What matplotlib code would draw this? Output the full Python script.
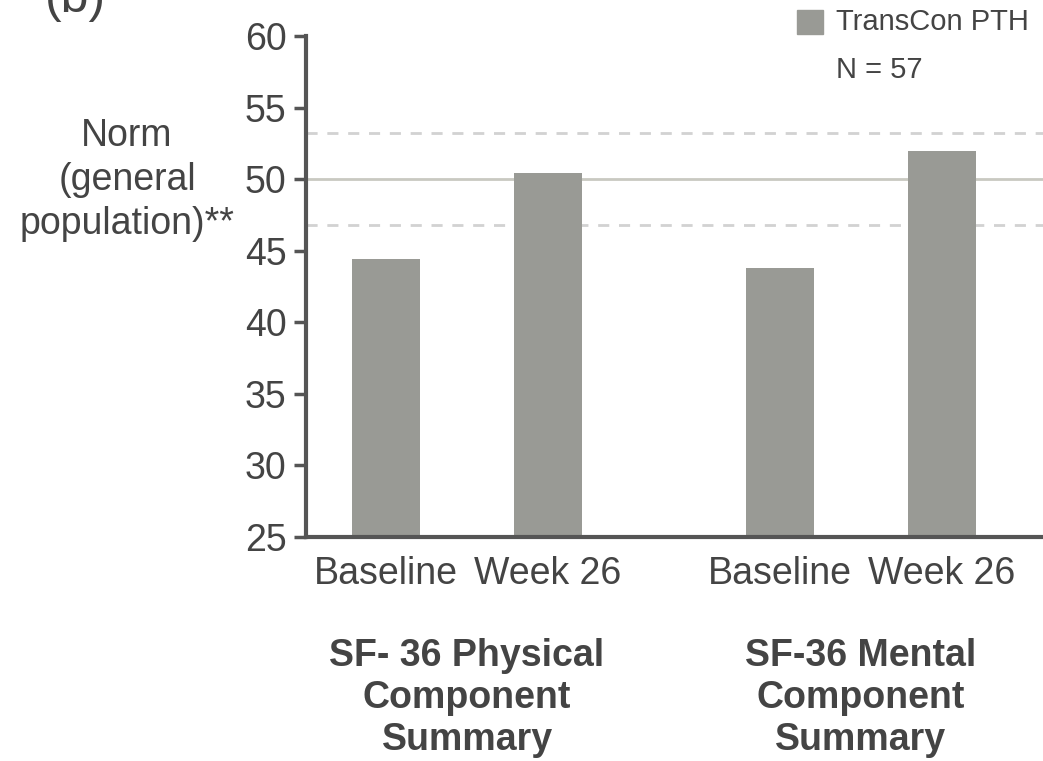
import matplotlib.pyplot as plt
import matplotlib.transforms as mtransforms
import numpy as np

# SF-36 scores, baseline vs week 26
categories = ['Baseline', 'Week 26', 'Baseline', 'Week 26']
scores = [44.4, 50.4, 43.8, 52.0]
groups = ['SF- 36 Physical\nComponent\nSummary', 'SF-36 Mental\nComponent\nSummary']
norm_mean = 50
norm_band = [46.8, 53.2]
yticks = [25, 30, 35, 40, 45, 50, 55, 60]

plt.rcParams['font.family'] = ['Liberation Sans', 'DejaVu Sans']

text_col = '#444444'
bar_col = '#999a95'
axis_col = '#555555'

fig = plt.figure(figsize=(10.43, 7.61), dpi=100)
ax = fig.add_axes([0.2934, 0.2943, 0.7066, 0.6584])

x = np.array([0, 1, 2.432, 3.432])

# norm reference lines behind the bars
ax.axhline(norm_mean, color='#c9c9c1', lw=2, zorder=1)
for v in norm_band:
    ax.axhline(v, color='#d2d2d2', lw=2, ls=(0, (4, 3.5)), zorder=1)

ax.bar(x, scores, width=0.42, color=bar_col, zorder=2)

ax.set_xlim(-0.494, 4.056)
ax.set_ylim(25, 60)
ax.set_yticks(yticks)
ax.set_xticks(x)
ax.set_xticklabels(categories)
ax.tick_params(axis='y', length=9, width=2.5, color=axis_col, labelsize=27,
               labelcolor=text_col, pad=5)
ax.tick_params(axis='x', length=0, labelsize=27, labelcolor=text_col, pad=14)

for s in ['top', 'right']:
    ax.spines[s].set_visible(False)
for s in ['left', 'bottom']:
    ax.spines[s].set_color(axis_col)
    ax.spines[s].set_linewidth(3)

# group titles under the tick labels
trans = mtransforms.blended_transform_factory(ax.transData, fig.transFigure)
for gx, g in zip([(x[0] + x[1]) / 2, (x[2] + x[3]) / 2], groups):
    ax.text(gx, 1 - 638 / 761, g, transform=trans, ha='center', va='top',
            fontsize=27, fontweight='bold', color=text_col, linespacing=1.22)

# norm label on the left
fig.text(127 / 1043, 1 - 180 / 761, 'Norm\n(general\npopulation)**', ha='center',
         va='center', fontsize=27, color=text_col, linespacing=1.3)

# legend
fig.patches.append(plt.Rectangle((797 / 1043, 1 - 34 / 761), 26 / 1043, 24 / 761,
                                 transform=fig.transFigure, color=bar_col))
fig.text(836 / 1043, 1 - 22 / 761, 'TransCon PTH', ha='left', va='center',
         fontsize=21, color=text_col)
fig.text(836 / 1043, 1 - 70 / 761, 'N = 57', ha='left', va='center',
         fontsize=21, color=text_col)

# panel letter, partly cut off at the top
fig.text(45 / 1043, 1 - 12 / 761, '(b)', ha='left', va='baseline',
         fontsize=36, color=text_col)

fig.savefig('out.png', dpi=100)
